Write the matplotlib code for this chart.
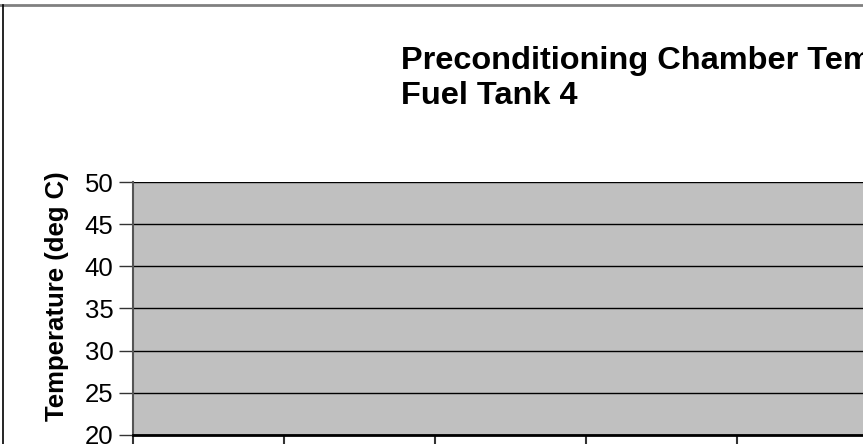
import matplotlib
matplotlib.use("Agg")
import matplotlib.pyplot as plt
from matplotlib.lines import Line2D

# --- dados visiveis no recorte ---
title_lines = ["Preconditioning Chamber Temperature", "Fuel Tank 4"]
y_label = "Temperature (deg C)"
y_ticks = [20, 25, 30, 35, 40, 45, 50]
x_categories = [0, 1, 2, 3, 4, 5, 6]

plt.rcParams['font.family'] = ['Liberation Sans', 'DejaVu Sans']

W, H = 863, 444
fig = plt.figure(figsize=(W / 100, H / 100), dpi=100)
fig.patch.set_facecolor('white')

# area do grafico (passa da borda direita da figura)
left, right = 133, 1039
top, bottom = 182, 435
ax = fig.add_axes([left / W, (H - bottom) / H, (right - left) / W, (bottom - top) / H])
ax.set_facecolor('#C0C0C0')
ax.set_ylim(min(y_ticks), max(y_ticks))
ax.set_xlim(x_categories[0], x_categories[-1])
ax.set_yticks(y_ticks)
ax.set_xticks(x_categories)
ax.set_xticklabels([])
ax.yaxis.grid(True, color='black', linewidth=1.0)
ax.set_axisbelow(True)
for s in ['top', 'right']:
    ax.spines[s].set_visible(False)
ax.spines['left'].set_color('#555555')
ax.spines['left'].set_linewidth(1.5)
ax.spines['bottom'].set_color('black')
ax.spines['bottom'].set_linewidth(2.0)
ax.tick_params(axis='y', direction='out', length=10, width=1, color='#333333',
               labelsize=18.5, pad=4)
ax.tick_params(axis='x', direction='out', length=9, width=1.5, color='#333333')

# rotulo do eixo y
fig.text(57 / W, (H - 296) / H, y_label, rotation=90, fontsize=18.5,
         fontweight='bold', ha='center', va='center')

# titulo (duas linhas)
fig.text(401 / W, (H - 69) / H, title_lines[0], fontsize=23.4, fontweight='bold',
         ha='left', va='baseline')
fig.text(401 / W, (H - 104) / H, title_lines[1], fontsize=23.4, fontweight='bold',
         ha='left', va='baseline')

# borda do grafico (topo e esquerda)
fig.add_artist(Line2D([0, 1], [(H - 5) / H] * 2, color='#808080', linewidth=2,
                      transform=fig.transFigure))
fig.add_artist(Line2D([2.5 / W] * 2, [0, (H - 5) / H], color='black', linewidth=1.2,
                      transform=fig.transFigure))

fig.savefig('out.png', dpi=100)
